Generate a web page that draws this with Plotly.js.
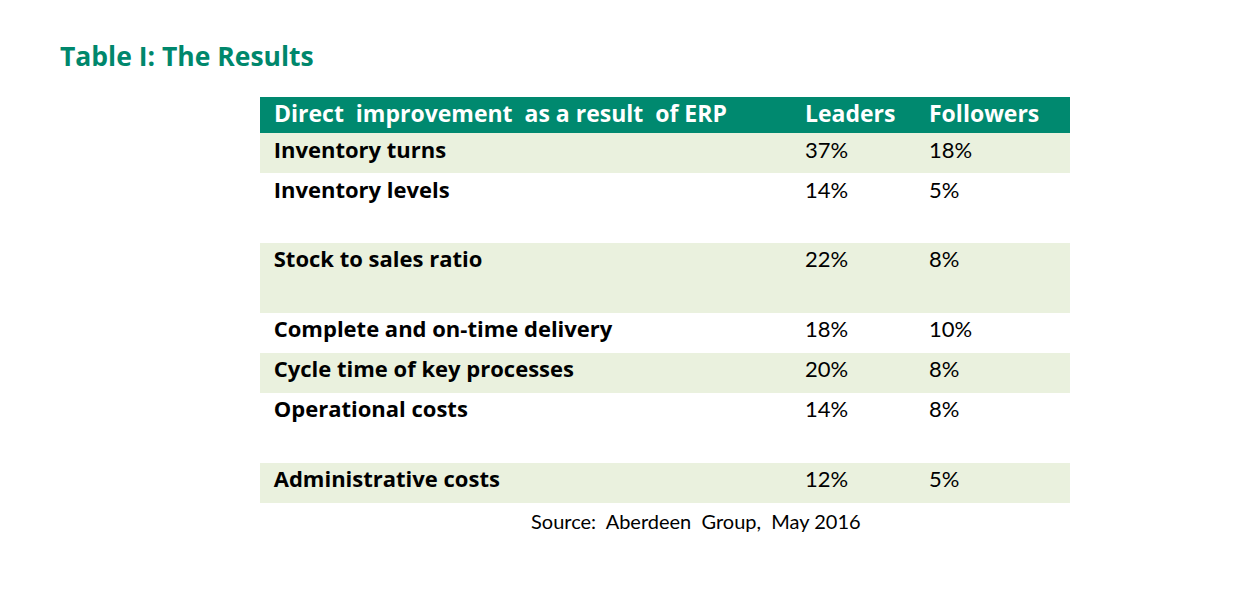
<!DOCTYPE html>
<html>
<head>
<meta charset="utf-8">
<script src="https://cdn.plot.ly/plotly-3.0.1.min.js"></script>
<style>html,body{margin:0;padding:0;background:#fff;}#chart{width:1233px;height:599px;}</style>
</head>
<body>
<div id="chart"></div>
<script>
// ---- data ----
const headerLabels = ["Direct  improvement  as a result  of ERP", "Leaders", "Followers"];
const categories = [
  "Inventory turns",
  "Inventory levels",
  "Stock to sales ratio",
  "Complete and on-time delivery",
  "Cycle time of key processes",
  "Operational costs",
  "Administrative costs"
];
const leaders = ["37%", "14%", "22%", "18%", "20%", "14%", "12%"];
const followers = ["18%", "5%", "8%", "10%", "8%", "8%", "5%"];
const titleText = "Table I: The Results";
const sourceText = "Source:  Aberdeen  Group,  May 2016";

// ---- style ----
const tallRows = [false, true, true, false, false, true, false];
const green = "#00896f";
const light = "#eaf1de";
const rowColors = categories.map((_, i) => i % 2 === 0 ? light : "#ffffff");
const nb = s => "\u00a0" + s.replace(/ /g, "\u00a0");
const labelCells = categories.map(nb);
// invisible narrow column that only sets the taller row heights
const spacer = tallRows.map(t => t ? "\u00a0<br>\u00a0" : "");

const W = 1233, H = 599;
const trace = {
  type: "table",
  domain: {x: [260 / W, 1070 / W], y: [0.02, 1 - 97 / H]},
  columnwidth: [537, 124, 148, 1],
  header: {
    values: [nb(headerLabels[0]), headerLabels[1], headerLabels[2], ""],
    align: "left",
    height: 36,
    fill: {color: green},
    line: {color: green, width: 0},
    font: {family: "Open Sans, sans-serif", size: 23, weight: "bold", color: "#ffffff"}
  },
  cells: {
    values: [labelCells, leaders, followers, spacer],
    align: "left",
    height: 40,
    fill: {color: [rowColors, rowColors, rowColors, rowColors]},
    line: {color: [rowColors, rowColors, rowColors, rowColors], width: 0},
    font: {
      family: ["Open Sans, sans-serif", "Lato, sans-serif", "Lato, sans-serif", "Lato, sans-serif"],
      size: [22, 22, 22, 21.5],
      weight: ["bold", "normal", "normal", "normal"],
      color: "#000000"
    }
  }
};

const layout = {
  width: W, height: H,
  margin: {l: 0, r: 0, t: 0, b: 0},
  paper_bgcolor: "#ffffff",
  title: {
    text: titleText,
    x: 60 / W, xanchor: "left",
    y: 1 - 57 / H, yanchor: "middle",
    font: {family: "Open Sans, sans-serif", size: 26.5, weight: "bold", color: "#00876c"}
  },
  annotations: [{
    text: sourceText,
    xref: "paper", yref: "paper",
    x: 696 / W, y: 1 - 521 / H,
    xanchor: "center", yanchor: "middle",
    showarrow: false,
    font: {family: "Lato, sans-serif", size: 20, color: "#000000"}
  }]
};

Plotly.newPlot("chart", [trace], layout, {displayModeBar: false, staticPlot: true});
</script>
</body>
</html>
